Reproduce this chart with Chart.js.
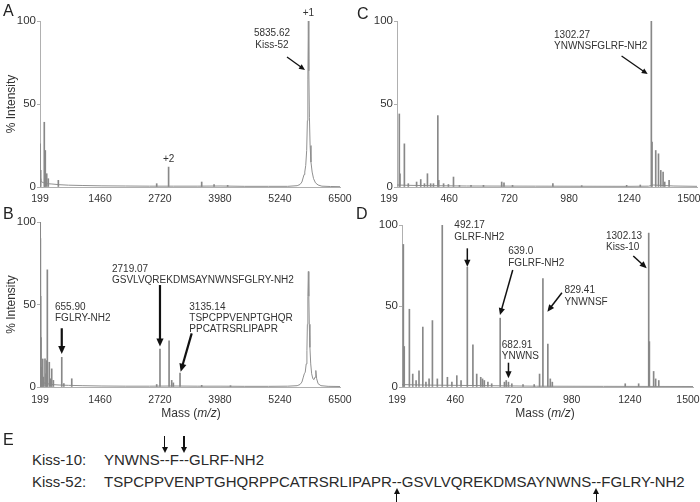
<!DOCTYPE html>
<html><head><meta charset="utf-8">
<script src="https://cdn.jsdelivr.net/npm/chart.js@4/dist/chart.umd.min.js"></script>
<style>
html,body{margin:0;padding:0;background:#fff;width:700px;height:502px;overflow:hidden;}
body{position:relative;font-family:"Liberation Sans",Arial,sans-serif;color:#333;}
canvas{position:absolute;}
.lbl{position:absolute;font-size:16px;line-height:16px;color:#222;}
.mass{position:absolute;width:120px;text-align:center;font-size:12px;line-height:12px;color:#333;white-space:nowrap;}
.row{position:absolute;font-size:15px;line-height:15px;color:#2a2a2a;white-space:nowrap;}
.cut{position:relative;}
.down::before{content:'';position:absolute;left:50%;margin-left:-0.6px;top:-15px;width:1.2px;height:13px;background:#111;}
.down::after{content:'';position:absolute;left:50%;margin-left:-3px;top:-4px;width:0;height:0;border-left:3px solid transparent;border-right:3px solid transparent;border-top:6px solid #111;}
.up::before{content:'';position:absolute;left:50%;margin-left:-0.6px;top:19px;width:1.2px;height:11px;background:#111;}
.up::after{content:'';position:absolute;left:50%;margin-left:-3px;top:15px;width:0;height:0;border-left:3px solid transparent;border-right:3px solid transparent;border-bottom:6px solid #111;}
</style></head>
<body>
<canvas id="cA" width="355" height="215" style="left:0;top:0"></canvas>
<canvas id="cB" width="355" height="215" style="left:0;top:200px"></canvas>
<canvas id="cC" width="343" height="215" style="left:357px;top:0"></canvas>
<canvas id="cD" width="338" height="215" style="left:362px;top:200px"></canvas>

<div class="lbl" style="left:3px;top:3px">A</div>
<div class="lbl" style="left:3px;top:206px">B</div>
<div class="lbl" style="left:357px;top:6px">C</div>
<div class="lbl" style="left:356px;top:206px">D</div>
<div class="mass" style="left:131px;top:407px">Mass (<i>m/z</i>)</div>
<div class="mass" style="left:485px;top:407px">Mass (<i>m/z</i>)</div>

<div class="lbl" style="left:3px;top:432px">E</div>
<div class="row" style="left:32px;top:451.7px">Kiss-10:</div>
<div class="row" style="left:104px;top:451.7px">YNWNS<span class="cut down">--</span>F<span class="cut down">--</span>GLRF-NH2</div>
<div class="row" style="left:32px;top:473.7px">Kiss-52:</div>
<div class="row" style="left:104px;top:473.7px">TSPCPPVENPTGHQRPPCATRSRLIPAPR<span class="cut up">--</span>GSVLVQREKDMSAYNWNS<span class="cut up">--</span>FGLRY-NH2</div>

<script>
// ---- tick labels ----
const wideMassTicks = [199, 1460, 2720, 3980, 5240, 6500];
const narrowMassTicks = [199, 460, 720, 980, 1240, 1500];
const intensityTicks = [0, 50, 100];

// ---- Panel A: Kiss-52 intact ----
const aPeakMass = [200, 214, 289, 300, 310, 340, 373, 584, 2650, 2900, 3595, 3855, 4140];
const aPeakInt  = [26, 10, 39, 9, 22, 8, 5, 4, 2, 12, 3, 1.5, 1];
const aTraceMass = [199, 215, 240, 280, 350, 450, 600, 800, 1100, 1500, 2000, 2500, 3000, 3500, 4000, 4500, 5000, 5400, 5600, 5660, 5700, 5730, 5745, 5760, 5780, 5800, 5815, 5825, 5835, 5845, 5858, 5872, 5890, 5915, 5945, 5985, 6040, 6120, 6300, 6500];
const aTraceInt  = [5, 3.5, 3, 2.5, 2, 1.8, 1.4, 1.1, 0.9, 0.7, 0.6, 0.5, 0.5, 0.5, 0.6, 0.4, 0.4, 0.4, 0.8, 1.5, 3, 6, 7.5, 9, 13, 22, 40, 65, 100, 70, 42, 25, 15, 9, 5, 2.5, 1.2, 0.5, 0.3, 0.2];

// ---- Panel B: Kiss-52 digest ----
const bPeakMass = [203, 207, 212, 220, 235, 256, 270, 304, 325, 340, 353, 394, 420, 445, 480, 656, 700, 866, 2650, 2719, 2910, 2965, 3000, 3140, 3595, 4200];
const bPeakInt  = [100, 90, 55, 30, 12, 17, 6, 17, 8, 16, 71, 15, 5, 11, 4, 18, 2, 5, 1.5, 23, 28, 4, 2.5, 8.5, 1, 0.8];
const bTraceMass = [199, 215, 240, 280, 350, 450, 600, 800, 1100, 1500, 2000, 2500, 3000, 3500, 4000, 4500, 5000, 5400, 5600, 5660, 5700, 5730, 5750, 5770, 5790, 5805, 5815, 5825, 5835, 5845, 5855, 5868, 5885, 5905, 5930, 5955, 5975, 5992, 6010, 6040, 6100, 6250, 6500];
const bTraceInt  = [6, 4, 3, 2.5, 2, 1.5, 1.2, 1, 0.8, 0.6, 0.5, 0.5, 0.6, 0.5, 0.5, 0.4, 0.4, 0.5, 0.8, 1.5, 3, 6, 8, 9, 14, 22, 38, 55, 70, 55, 38, 24, 14, 8, 5, 4.5, 6, 10, 5, 2, 0.8, 0.4, 0.3];

// ---- Panel C: Kiss-10 intact ----
const cPeakMass = [209, 212, 231, 248, 284, 302, 318, 331, 345, 357, 376, 380, 401, 422, 444, 470, 520, 574, 653, 663, 700, 875, 1000, 1195, 1254, 1302, 1305, 1321, 1333, 1343, 1353, 1360, 1379];
const cPeakInt  = [44, 8, 26, 2, 3, 4.5, 2, 8, 2, 2, 43, 4, 2, 1.5, 6, 1, 1, 1, 3, 2.5, 1, 2, 0.8, 1, 1.2, 100, 27, 22, 20, 10, 9, 3, 4];
const cTraceMass = [199, 250, 350, 500, 800, 1200, 1290, 1310, 1400, 1500];
const cTraceInt  = [1.2, 1, 0.8, 0.6, 0.5, 0.4, 0.5, 1.2, 0.6, 0.4];

// ---- Panel D: Kiss-10 digest ----
const dPeakMass = [205, 209, 232, 247, 262, 275, 292, 306, 320, 335, 357, 379, 402, 422, 444, 463, 491, 516, 533, 551, 559, 567, 583, 600, 638, 657, 665, 675, 690, 740, 790, 814, 829, 851, 862, 871, 1197, 1257, 1302, 1305, 1324, 1333, 1347];
const dPeakInt  = [88, 25, 48, 8, 4, 10, 37, 3, 5, 41, 5, 100, 6, 3, 7, 4, 74, 26, 8, 6, 5, 4, 3, 2, 42.5, 3, 4, 3, 2, 1.5, 1.5, 8, 67, 26.5, 5, 3, 2, 2, 95, 28, 9.6, 5, 4];
const dTraceMass = [199, 300, 450, 600, 800, 1100, 1500];
const dTraceInt  = [1.5, 1.2, 1, 0.8, 0.5, 0.4, 0.3];

// ---- peak annotations (anchors in data units) ----
const aNotes = [
  {lines:['+1'], at:[5835, 104.5], align:'center'},
  {lines:['5835.62', 'Kiss-52'], at:[5072, 92.8], align:'center', gap:12, arrow:{from:[5387, 78.3], to:[5765, 70.5]}},
  {lines:['+2'], at:[2900, 16.9], align:'center'}
];
const bNotes = [
  {lines:['2719.07', 'GSVLVQREKDMSAYNWNSFGLRY-NH2'], at:[1711, 71.3], gap:10.5, arrow:{from:[2719, 61.8], to:[2719, 24.5], w:2.2, h:8}},
  {lines:['655.90', 'FGLRY-NH2'], at:[514, 48.4], gap:11, arrow:{from:[656, 35.6], to:[656, 20], w:2.2, h:8}},
  {lines:['3135.14', 'TSPCPPVENPTGHQR', 'PPCATRSRLIPAPR'], at:[3335, 48.5], gap:11.2, arrow:{from:[3385, 32.5], to:[3154, 9.3], w:2.2, h:8}}
];
const cNotes = [
  {lines:['1302.27', 'YNWNSFGLRF-NH2'], at:[880, 91.3], gap:11.2, arrow:{from:[1173, 78.9], to:[1286, 68]}}
];
const dNotes = [
  {lines:['492.17', 'GLRF-NH2'], at:[433, 99.7], gap:12, arrow:{from:[491, 85.6], to:[491, 74.3], w:1.5, h:7}},
  {lines:['639.0', 'FGLRF-NH2'], at:[674, 83.8], gap:12.5, arrow:{from:[694, 72.2], to:[637, 44.4], w:1.5, h:7}},
  {lines:['829.41', 'YNWNSF'], at:[925, 60], gap:12.2, arrow:{from:[914, 58.2], to:[849, 46.5], w:1.5, h:7}},
  {lines:['682.91', 'YNWNS'], at:[645, 26], gap:11.4, arrow:{from:[675, 15], to:[675, 5.4], w:1.5, h:7}},
  {lines:['1302.13', 'Kiss-10'], at:[1111, 93], gap:11.2, arrow:{from:[1233, 80.9], to:[1293, 73.3], w:1.5, h:7}}
];

const FAMILY = '"Liberation Sans", Arial, Helvetica, sans-serif';
Chart.defaults.font.family = FAMILY;
const TEXT = '#333';
const AXIS = '#b0b0b0';

const pts = (ms, is) => ms.map((m, i) => ({x: m, y: is[i]}));

function drawArrow(ctx, x1, y1, x2, y2, w, h) {
  const a = Math.atan2(y2 - y1, x2 - x1);
  const c = Math.cos(a), s = Math.sin(a);
  ctx.strokeStyle = '#111'; ctx.fillStyle = '#111';
  ctx.lineWidth = w;
  ctx.beginPath();
  ctx.moveTo(x1, y1);
  ctx.lineTo(x2 - c * h * 0.7, y2 - s * h * 0.7);
  ctx.stroke();
  const hw = h * 0.45;
  ctx.beginPath();
  ctx.moveTo(x2, y2);
  ctx.lineTo(x2 - c * h - s * hw, y2 - s * h + c * hw);
  ctx.lineTo(x2 - c * h + s * hw, y2 - s * h - c * hw);
  ctx.closePath();
  ctx.fill();
}

function notesPlugin(notes) {
  return {
    id: 'peakNotes',
    afterDraw(chart) {
      const ctx = chart.ctx, xs = chart.scales.x, ys = chart.scales.y;
      ctx.save();
      for (const n of notes) {
        ctx.font = '10px ' + FAMILY;
        ctx.fillStyle = TEXT;
        ctx.textBaseline = 'middle';
        ctx.textAlign = n.align || 'left';
        const px = xs.getPixelForValue(n.at[0]);
        const py = ys.getPixelForValue(n.at[1]);
        n.lines.forEach((t, i) => ctx.fillText(t, px, py + i * (n.gap || 12)));
        if (n.arrow) {
          const A = n.arrow;
          drawArrow(ctx,
            xs.getPixelForValue(A.from[0]), ys.getPixelForValue(A.from[1]),
            xs.getPixelForValue(A.to[0]), ys.getPixelForValue(A.to[1]),
            A.w || 1.3, A.h || 6);
        }
      }
      ctx.restore();
    }
  };
}

function spectrum(id, o) {
  new Chart(document.getElementById(id), {
    type: 'bar',
    data: {
      datasets: [
        {type: 'bar', data: pts(o.peakMass, o.peakInt), backgroundColor: '#888888', barThickness: 1, borderWidth: 0, order: 1},
        {type: 'line', data: pts(o.traceMass, o.traceInt), borderColor: '#909090', borderWidth: 1, pointRadius: 0, tension: 0, fill: false, order: 2}
      ]
    },
    options: {
      responsive: false,
      animation: false,
      events: [],
      layout: {padding: o.pad},
      plugins: {legend: {display: false}, tooltip: {enabled: false}},
      scales: {
        x: {
          type: 'linear', min: o.ticks[0], max: o.ticks[o.ticks.length - 1], offset: false,
          grid: {display: false, drawTicks: false, offset: false},
          border: {display: true, color: AXIS},
          ticks: {font: {size: 10.5}, color: TEXT, padding: o.xPad, labelOffset: o.labelOffset || 0,
                  maxRotation: 0, autoSkip: false, callback: v => String(v)},
          afterBuildTicks: s => { s.ticks = o.ticks.map(v => ({value: v})); },
          afterFit: s => { s.height = 20; s.paddingLeft = 0; s.paddingRight = 0; }
        },
        y: {
          min: 0, max: 100,
          grid: {drawOnChartArea: false, tickLength: 3, color: AXIS},
          border: {display: true, color: AXIS},
          ticks: {font: {size: 11.5}, color: TEXT, padding: 1, callback: v => String(v)},
          title: {display: !!o.yTitle, text: o.yTitle || '', font: {size: 12}, color: TEXT, padding: {top: 4, bottom: 0}},
          afterBuildTicks: s => { s.ticks = intensityTicks.map(v => ({value: v})); },
          afterFit: s => { s.width = 40; s.paddingTop = 0; s.paddingBottom = 0; }
        }
      }
    },
    plugins: [notesPlugin(o.notes)]
  });
}

spectrum('cA', {peakMass: aPeakMass, peakInt: aPeakInt, traceMass: aTraceMass, traceInt: aTraceInt,
  ticks: wideMassTicks, pad: {left: 0, top: 21, right: 15, bottom: 8}, xPad: 6, yTitle: '% Intensity', notes: aNotes});
spectrum('cB', {peakMass: bPeakMass, peakInt: bPeakInt, traceMass: bTraceMass, traceInt: bTraceInt,
  ticks: wideMassTicks, pad: {left: 0, top: 22, right: 15, bottom: 8}, xPad: 7, yTitle: '% Intensity', notes: bNotes});
spectrum('cC', {peakMass: cPeakMass, peakInt: cPeakInt, traceMass: cTraceMass, traceInt: cTraceInt,
  ticks: narrowMassTicks, pad: {left: 0, top: 21, right: 3, bottom: 8}, xPad: 6, labelOffset: -8, notes: cNotes});
spectrum('cD', {peakMass: dPeakMass, peakInt: dPeakInt, traceMass: dTraceMass, traceInt: dTraceInt,
  ticks: narrowMassTicks, pad: {left: 0, top: 25, right: 7, bottom: 8}, xPad: 7, labelOffset: -5, notes: dNotes});
</script>
</body></html>
